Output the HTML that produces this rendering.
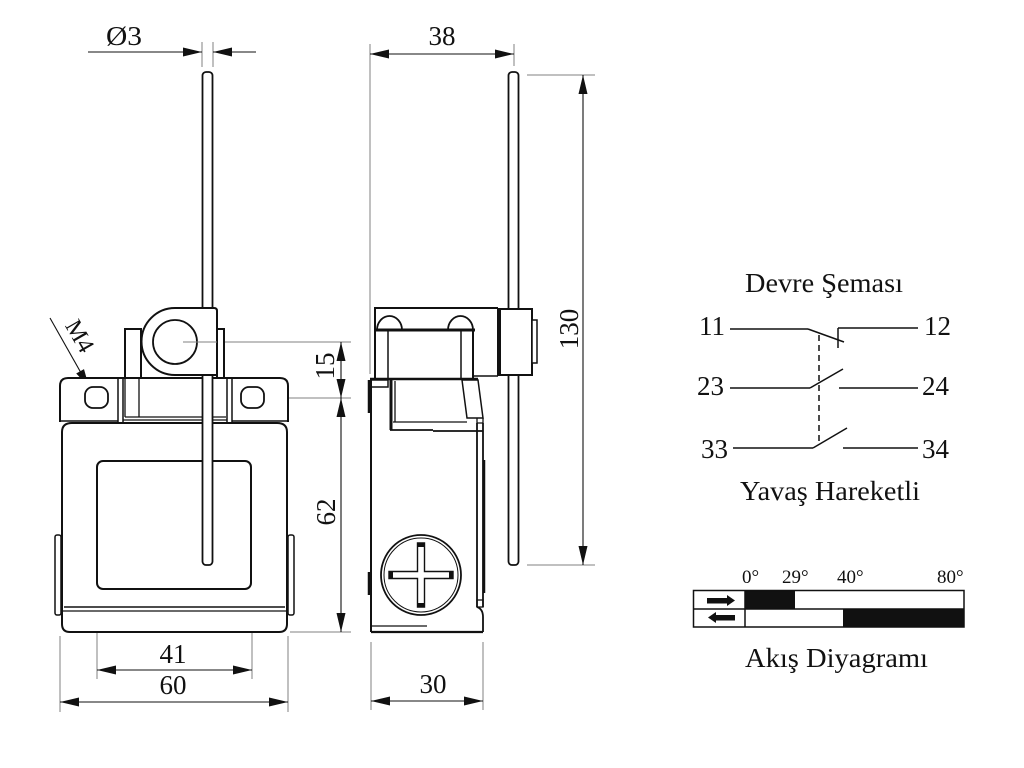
<!DOCTYPE html>
<html>
<head>
<meta charset="utf-8">
<style>
html,body{margin:0;padding:0;background:#fff;}
svg{display:block;}
text{font-family:"Liberation Serif","DejaVu Serif",serif;fill:#111;}
</style>
</head>
<body>
<svg width="1024" height="768" viewBox="0 0 1024 768" xmlns="http://www.w3.org/2000/svg">
<rect width="1024" height="768" fill="#fff"/>

<!-- ===== extension lines (gray) ===== -->
<g stroke="#808080" stroke-width="1" fill="none">
  <line x1="202" y1="42" x2="202" y2="67"/>
  <line x1="213" y1="42" x2="213" y2="67"/>
  <line x1="97" y1="417" x2="97" y2="679"/>
  <line x1="252" y1="417" x2="252" y2="679"/>
  <line x1="60" y1="636" x2="60" y2="712"/>
  <line x1="288" y1="636" x2="288" y2="712"/>
  <line x1="183" y1="342" x2="351" y2="342"/>
  <line x1="263" y1="398" x2="351" y2="398"/>
  <line x1="290" y1="632" x2="351" y2="632"/>
  <line x1="370" y1="44" x2="370" y2="374"/>
  <line x1="514" y1="44" x2="514" y2="66"/>
  <line x1="527" y1="75" x2="595" y2="75"/>
  <line x1="527" y1="565" x2="595" y2="565"/>
  <line x1="371" y1="642" x2="371" y2="710"/>
  <line x1="483" y1="642" x2="483" y2="710"/>
</g>

<!-- ===== dimension lines (black) ===== -->
<g stroke="#111" stroke-width="1.1" fill="none">
  <line x1="88" y1="52" x2="202" y2="52"/>
  <line x1="213" y1="52" x2="256" y2="52"/>
  <line x1="370" y1="54" x2="514" y2="54"/>
  <line x1="583" y1="75" x2="583" y2="565"/>
  <line x1="341" y1="342" x2="341" y2="632"/>
  <line x1="97" y1="670" x2="252" y2="670"/>
  <line x1="60" y1="702" x2="288" y2="702"/>
  <line x1="371" y1="701" x2="483" y2="701"/>
  <line x1="50" y1="318" x2="89" y2="387"/>
</g>
<g fill="#111" stroke="none">
  <polygon points="202,52 183,47.5 183,56.5"/>
  <polygon points="213,52 232,47.5 232,56.5"/>
  <polygon points="370,54 389,49.5 389,58.5"/>
  <polygon points="514,54 495,49.5 495,58.5"/>
  <polygon points="583,75 578.5,94 587.5,94"/>
  <polygon points="583,565 578.5,546 587.5,546"/>
  <polygon points="341,342 336.5,361 345.5,361"/>
  <polygon points="341,398 336.5,379 345.5,379"/>
  <polygon points="341,398 336.5,417 345.5,417"/>
  <polygon points="341,632 336.5,613 345.5,613"/>
  <polygon points="97,670 116,665.5 116,674.5"/>
  <polygon points="252,670 233,665.5 233,674.5"/>
  <polygon points="60,702 79,697.5 79,706.5"/>
  <polygon points="288,702 269,697.5 269,706.5"/>
  <polygon points="371,701 390,696.5 390,705.5"/>
  <polygon points="483,701 464,696.5 464,705.5"/>
  <polygon points="89,387 84.0,369.1 76.2,373.5"/>
</g>

<!-- ===== LEFT VIEW ===== -->
<g stroke="#111" fill="none" stroke-width="2">
  <!-- upper ears -->
  <path d="M60,422 L60,386 Q60,378 68,378 L280,378 Q288,378 288,386 L288,422" fill="#fff"/>
  <line x1="60" y1="421" x2="118" y2="421" stroke-width="1.5"/>
  <line x1="232" y1="421" x2="288" y2="421" stroke-width="1.5"/>
  <line x1="118" y1="378" x2="118" y2="422" stroke-width="1.5"/>
  <line x1="123" y1="378" x2="123" y2="422" stroke-width="1.5"/>
  <line x1="227" y1="378" x2="227" y2="422" stroke-width="1.5"/>
  <line x1="232" y1="378" x2="232" y2="422" stroke-width="1.5"/>
  <line x1="125" y1="417" x2="226" y2="417" stroke-width="1.3"/>
  <line x1="123" y1="420" x2="227" y2="420" stroke-width="1.3"/>
  <rect x="85" y="387" width="23" height="21" rx="8" stroke-width="1.8"/>
  <rect x="241" y="387" width="23" height="21" rx="8" stroke-width="1.8"/>
  <!-- lid -->
  <path d="M62,432 Q62,423 72,423 L277,423 Q287,423 287,432 L287,624 Q287,632 279,632 L70,632 Q62,632 62,624 Z" fill="#fff"/>
  <line x1="64" y1="607" x2="285" y2="607" stroke-width="1.5"/>
  <line x1="62" y1="611" x2="287" y2="611" stroke-width="1.3"/>
  <!-- side tabs -->
  <rect x="55" y="535" width="6" height="80" rx="2" stroke-width="1.5" fill="#fff"/>
  <rect x="288" y="535" width="6" height="80" rx="2" stroke-width="1.5" fill="#fff"/>
  <!-- window -->
  <rect x="97" y="461" width="154" height="128" rx="6" stroke-width="2"/>
  <!-- posts -->
  <rect x="125" y="329" width="16" height="49" fill="#fff" stroke-width="2"/>
  <line x1="139" y1="378" x2="139" y2="417" stroke-width="1.3"/>
  <line x1="125" y1="378" x2="125" y2="417" stroke-width="1.3"/>
  <rect x="217" y="329" width="7" height="49" fill="#fff" stroke-width="2"/>
  <!-- rod -->
  <rect x="202.5" y="72" width="10" height="493" rx="3.5" fill="#fff" stroke-width="1.8"/>
  <!-- roller holder -->
  <path d="M175,308 L214,308 Q217,308 217,311 L217,375 L175,375 A33.5,33.5 0 0 1 175,308 Z" fill="#fff" stroke-width="2"/>
  <circle cx="175" cy="342" r="22" stroke-width="1.8"/>
</g>
<line x1="183" y1="342" x2="217" y2="342" stroke="#808080" stroke-width="1"/>

<!-- ===== MIDDLE VIEW ===== -->
<g stroke="#111" fill="none" stroke-width="2">
  <!-- cap -->
  <path d="M375,378 L375,308 L498,308" />
  <path d="M377,330 A12.5,14 0 0 1 402,330" stroke-width="1.8"/>
  <path d="M448,330 A12.5,14 0 0 1 473,330" stroke-width="1.8"/>
  <line x1="375" y1="330" x2="475" y2="330" stroke-width="3"/>
  <line x1="388" y1="330" x2="388" y2="379" stroke-width="1.5"/>
  <line x1="461" y1="330" x2="461" y2="379" stroke-width="1.5"/>
  <line x1="473" y1="330" x2="473" y2="379" stroke-width="2"/>
  <line x1="473" y1="376" x2="498" y2="376" stroke-width="1.5"/>
  <line x1="370" y1="379" x2="478" y2="379" stroke-width="2.5"/>
  <!-- body -->
  <rect x="371" y="380" width="17" height="7" stroke-width="1.5"/>
  <line x1="369" y1="380" x2="369" y2="413" stroke-width="2.5"/>
  <line x1="369" y1="572" x2="369" y2="595" stroke-width="2.5"/>
  <line x1="371" y1="379" x2="371" y2="632" stroke-width="2"/>
  <line x1="391" y1="380" x2="391" y2="430" stroke-width="3"/>
  <line x1="395" y1="381" x2="395" y2="422" stroke-width="1.3"/>
  <line x1="393" y1="422" x2="467" y2="422" stroke-width="1.3"/>
  <polygon points="462,380 478,380 483,418 467,418" stroke-width="1.5"/>
  <path d="M477,418 L477,423 L483,423 L483,418" stroke-width="1.3"/>
  <line x1="390" y1="430" x2="433" y2="430" stroke-width="1.8"/>
  <line x1="433" y1="431" x2="483" y2="431" stroke-width="1.8"/>
  <line x1="477" y1="423" x2="477" y2="607" stroke-width="1.8"/>
  <line x1="483" y1="423" x2="483" y2="607" stroke-width="1.8"/>
  <line x1="484" y1="460" x2="484" y2="593" stroke-width="2.5"/>
  <rect x="477" y="600" width="6" height="7" stroke-width="1.3"/>
  <path d="M477,607 Q483,609 483,617 L483,632" stroke-width="1.8"/>
  <line x1="371" y1="632" x2="483" y2="632" stroke-width="2.2"/>
  <line x1="371" y1="626" x2="427" y2="626" stroke-width="1.2"/>
  <!-- screw -->
  <circle cx="421" cy="575" r="40" stroke-width="1.8"/>
  <circle cx="421" cy="575" r="37" stroke-width="1"/>
  <path d="M417.5,543 L424.5,543 L424.5,571.5 L453,571.5 L453,578.5 L424.5,578.5 L424.5,607 L417.5,607 L417.5,578.5 L389,578.5 L389,571.5 L417.5,571.5 Z" stroke-width="1.4" fill="#fff"/>
</g>
<g fill="#111">
  <rect x="418" y="543" width="6" height="4"/>
  <rect x="418" y="603" width="6" height="4"/>
  <rect x="389" y="572" width="4" height="6"/>
  <rect x="449" y="572" width="4" height="6"/>
</g>
<g stroke="#111" fill="none" stroke-width="2">
  <!-- rod -->
  <rect x="508.5" y="72" width="10" height="493" rx="3.5" fill="#fff" stroke-width="1.8"/>
  <!-- rod block -->
  <rect x="498" y="309" width="34" height="66" fill="#fff" stroke-width="2"/>
  <line x1="499.5" y1="309" x2="499.5" y2="375" stroke-width="3"/>
  <rect x="532" y="320" width="5" height="43" fill="#fff" stroke-width="1.5"/>
</g>

<!-- ===== dimension texts ===== -->
<g font-size="27">
  <text x="106" y="45" textLength="36" lengthAdjust="spacingAndGlyphs">Ø3</text>
  <text x="442" y="45" text-anchor="middle">38</text>
  <text x="173" y="663" text-anchor="middle">41</text>
  <text x="173" y="694" text-anchor="middle">60</text>
  <text x="433" y="693" text-anchor="middle">30</text>
  <text transform="translate(334,366) rotate(-90)" text-anchor="middle">15</text>
  <text transform="translate(335,512) rotate(-90)" text-anchor="middle">62</text>
  <text transform="translate(578,329) rotate(-90)" text-anchor="middle">130</text>
</g>
<text transform="translate(73,340) rotate(60)" text-anchor="middle" font-size="24">M4</text>

<!-- ===== CIRCUIT SCHEMATIC ===== -->
<g font-size="27">
  <text x="745" y="292" textLength="158" lengthAdjust="spacingAndGlyphs">Devre Şeması</text>
  <text x="699" y="335">11</text>
  <text x="924" y="335">12</text>
  <text x="697" y="395">23</text>
  <text x="922" y="395">24</text>
  <text x="701" y="458">33</text>
  <text x="922" y="458">34</text>
  <text x="740" y="500" textLength="180" lengthAdjust="spacingAndGlyphs">Yavaş Hareketli</text>
  <text x="745" y="667" textLength="183" lengthAdjust="spacingAndGlyphs">Akış Diyagramı</text>
</g>
<g stroke="#111" stroke-width="1.5" fill="none">
  <line x1="730" y1="329" x2="808" y2="329"/>
  <line x1="808" y1="329" x2="844" y2="342"/>
  <line x1="838" y1="328" x2="918" y2="328"/>
  <line x1="838" y1="328" x2="838" y2="348"/>
  <line x1="730" y1="388" x2="810" y2="388"/>
  <line x1="810" y1="388" x2="843" y2="369"/>
  <line x1="839" y1="388" x2="918" y2="388"/>
  <line x1="733" y1="448" x2="813" y2="448"/>
  <line x1="813" y1="448" x2="847" y2="428"/>
  <line x1="843" y1="448" x2="918" y2="448"/>
  <line x1="819" y1="335" x2="819" y2="443" stroke-dasharray="6,4"/>
</g>

<!-- ===== FLOW DIAGRAM ===== -->
<g font-size="19">
  <text x="742" y="583">0°</text>
  <text x="782" y="583">29°</text>
  <text x="837" y="583">40°</text>
  <text x="937" y="583">80°</text>
</g>
<rect x="745" y="590" width="50" height="19" fill="#111"/>
<rect x="843" y="609" width="121" height="18" fill="#111"/>
<g stroke="#111" stroke-width="1.5" fill="none">
  <rect x="693.5" y="590.5" width="270.5" height="36.5"/>
  <line x1="693.5" y1="609" x2="964" y2="609"/>
  <line x1="745" y1="590.5" x2="745" y2="627"/>
</g>
<g fill="#111">
  <rect x="707" y="598" width="21" height="5.5"/>
  <polygon points="727,595 735,600.5 727,606"/>
  <rect x="715" y="615" width="20" height="5.5"/>
  <polygon points="716,612 708,617.5 716,623"/>
</g>
</svg>
</body>
</html>
